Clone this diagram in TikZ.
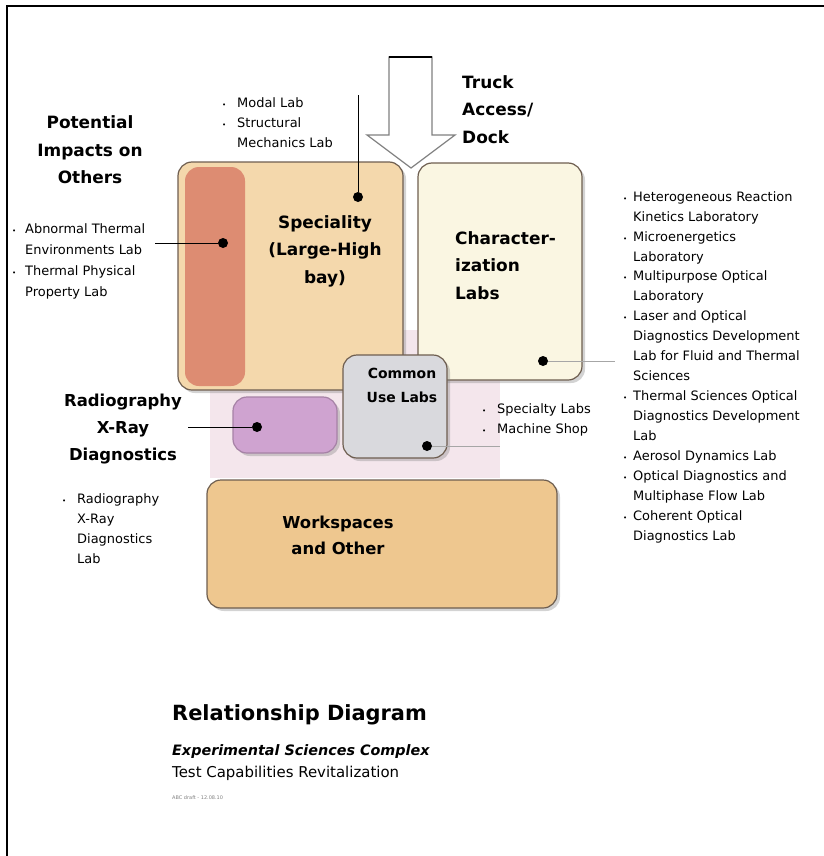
\documentclass[tikz,border=0pt]{standalone}
\usepackage{fontspec}
\setmainfont{DejaVu Sans}
\usetikzlibrary{shadows}
\definecolor{specfill}{HTML}{F4D8AC}
\definecolor{stripfill}{HTML}{DD8C72}
\definecolor{charfill}{HTML}{FAF6E2}
\definecolor{commonfill}{HTML}{D9D9DD}
\definecolor{radiofill}{HTML}{CFA3D0}
\definecolor{workfill}{HTML}{EEC78F}
\definecolor{pinkbg}{HTML}{F4E6EC}
\definecolor{boxline}{HTML}{6E5E50}
\newcommand{\blt}[1][15bp]{\makebox[#1][l]{\fontsize{7}{7}\selectfont\textbullet}}
\newcommand{\ind}[1][15bp]{\hspace*{#1}}
\begin{document}
\begin{tikzpicture}[x=1bp,y=-1bp,
  box/.style={draw=boxline, line width=1.2bp, rounded corners=14bp, inner sep=0pt,
    drop shadow={shadow xshift=3bp, shadow yshift=-3bp, opacity=.35}},
  dot/.style={circle, fill, inner sep=0pt, minimum size=10bp},
  head/.style={font=\bfseries\fontsize{17}{27.5}\selectfont, align=center, inner sep=0pt},
  lst/.style={font=\fontsize{13}{20}\selectfont, align=left, inner sep=0pt, anchor=base west},
  lead/.style={line width=0.8bp},
  leadgray/.style={line width=0.8bp, draw=gray!70}]
\useasboundingbox (0,0) rectangle (824,856);
\draw[line width=1.2bp] (7,856) -- (7,6) -- (824,6);
\fill[pinkbg] (210,330) rectangle (500,478);
\node[box, fill=specfill, minimum width=225bp, minimum height=228bp] (spec) at (290.5,276) {};
\node[fill=stripfill, rounded corners=14bp, minimum width=60bp, minimum height=219bp, inner sep=0pt] (strip) at (215,276.5) {};
\node[box, fill=charfill, minimum width=164bp, minimum height=217bp] (char) at (500,271.5) {};
\node[box, fill=workfill, minimum width=350bp, minimum height=128bp] (work) at (382,544) {};
\node[box, fill=radiofill, draw=radiofill!80!black, minimum width=104bp, minimum height=56bp] (radio) at (285,425) {};
\node[box, fill=commonfill, minimum width=104bp, minimum height=103bp] (common) at (395,406.5) {};
\filldraw[fill=white, draw=gray, line width=1.2bp] (389,57) -- (432,57) -- (432,135) -- (455,135) -- (411,168) -- (367,135) -- (389,135) -- cycle;
\draw[line width=2.4bp] (389,57) -- (432,57);
\node[head] (spectxt) at (325,251) {Speciality\\(Large-High\\bay)};
\node[head, align=left, anchor=base west] (chartxt) at (455,299) {Character-\\ization\\Labs};
\node[head, font=\bfseries\fontsize{14}{24}\selectfont] (commontxt) at (402,385) {Common\\Use Labs};
\node[head, font=\bfseries\fontsize{16.5}{26}\selectfont] (worktxt) at (338,535) {Workspaces\\and Other};
\node[head] (impact) at (90,150) {Potential\\Impacts on\\Others};
\node[head, align=left, anchor=base west] (truck) at (462,143) {Truck\\Access/\\Dock};
\node[head, font=\bfseries\fontsize{16.5}{27.5}\selectfont] (radiotxt) at (123,429) {Radiography\\X-Ray\\Diagnostics};
\node[lst] (modal) at (222,147) {\blt Modal Lab\\\blt Structural\\\ind Mechanics Lab};
\node[lst, font=\fontsize{13}{21}\selectfont] (thermal) at (12,296) {\blt[13bp]Abnormal Thermal\\\ind[13bp]Environments Lab\\\blt[13bp]Thermal Physical\\\ind[13bp]Property Lab};
\node[lst] (charlist) at (623,540) {\blt[10bp]Heterogeneous Reaction\\\ind[10bp]Kinetics Laboratory\\\blt[10bp]Microenergetics\\\ind[10bp]Laboratory\\\blt[10bp]Multipurpose Optical\\\ind[10bp]Laboratory\\\blt[10bp]Laser and Optical\\\ind[10bp]Diagnostics Development\\\ind[10bp]Lab for Fluid and Thermal\\\ind[10bp]Sciences\\\blt[10bp]Thermal Sciences Optical\\\ind[10bp]Diagnostics Development\\\ind[10bp]Lab\\\blt[10bp]Aerosol Dynamics Lab\\\blt[10bp]Optical Diagnostics and\\\ind[10bp]Multiphase Flow Lab\\\blt[10bp]Coherent Optical\\\ind[10bp]Diagnostics Lab};
\node[lst] (commonlist) at (482,433) {\blt Specialty Labs\\\blt Machine Shop};
\node[lst] (radiolist) at (62,563) {\blt Radiography\\\ind X-Ray\\\ind Diagnostics\\\ind Lab};
\coordinate (sdottop) at (358,95);
\node[dot] (sdot) at (358,197) {};
\draw[lead] (sdottop) -- (sdot);
\coordinate (rdotend) at (155,243);
\node[dot] (rdot) at (223,243) {};
\draw[lead] (rdotend) -- (rdot);
\coordinate (cdotend) at (615,361);
\node[dot] (cdot) at (543,361) {};
\draw[leadgray] (cdot) -- (cdotend);
\coordinate (udotend) at (500,446);
\node[dot] (udot) at (427,446) {};
\draw[leadgray] (udot) -- (udotend);
\coordinate (xdotend) at (188,427);
\node[dot] (xdot) at (257,427) {};
\draw[lead] (xdotend) -- (xdot);
\node[inner sep=0pt, anchor=base west, font=\bfseries\fontsize{21}{21}\selectfont] (title) at (172,720) {Relationship Diagram};
\node[inner sep=0pt, anchor=base west, font=\bfseries\itshape\fontsize{14.4}{14.4}\selectfont] (subtitle) at (172,755) {Experimental Sciences Complex};
\node[inner sep=0pt, anchor=base west, font=\fontsize{15}{15}\selectfont] (program) at (172,777) {Test Capabilities Revitalization};
\node[inner sep=0pt, anchor=base west, font=\fontsize{5}{5}\selectfont, text=gray] (draft) at (172,799) {ABC draft - 12.08.10};
\end{tikzpicture}
\end{document}
